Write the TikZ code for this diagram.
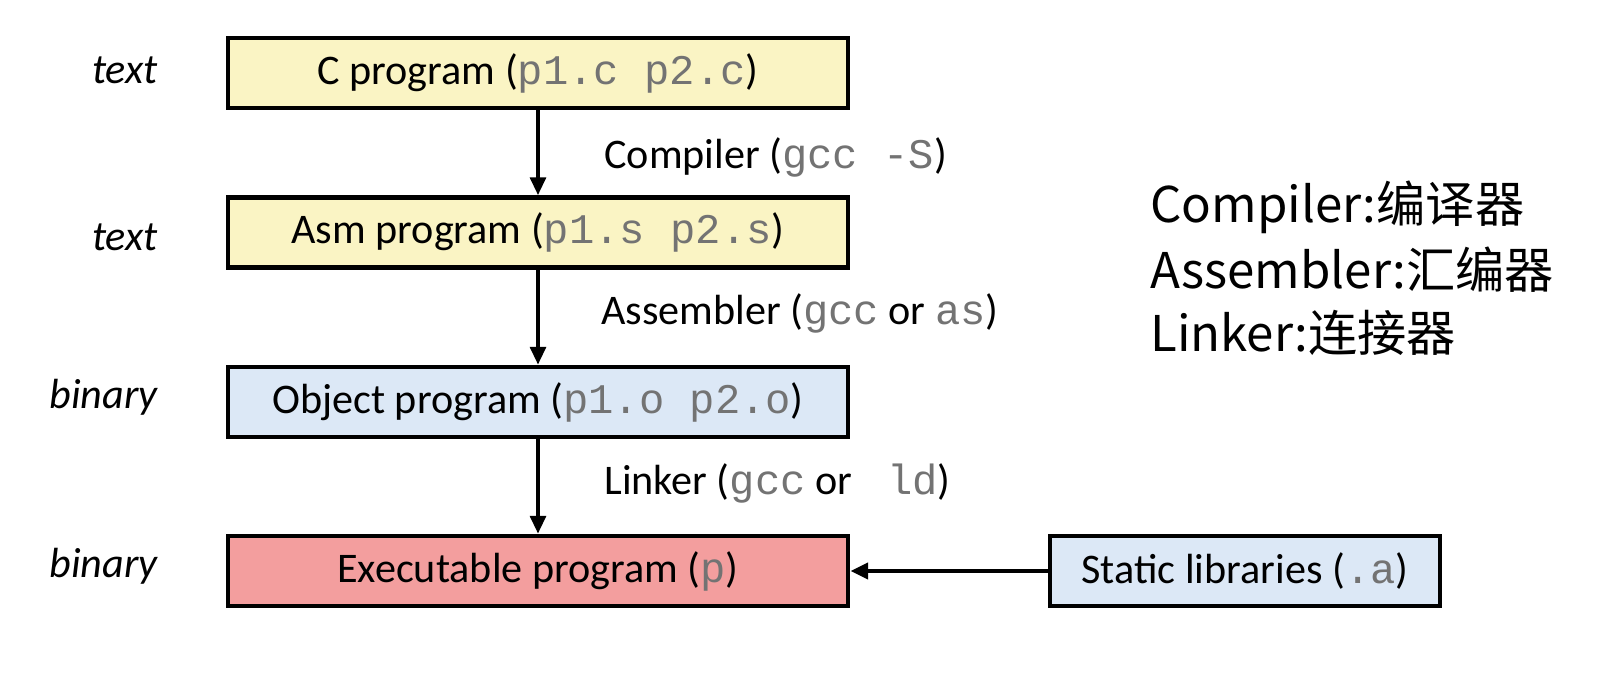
\documentclass[tikz,border=0pt]{standalone}
\usepackage{fontspec}
\setmainfont{Carlito}
\setmonofont{Liberation Mono}
\newfontfamily\cjk{Noto Sans CJK SC}
\usepackage{tikz}
\usetikzlibrary{positioning}
\usetikzlibrary{arrows.meta}

\definecolor{srcyellow}{RGB}{250,244,196}
\definecolor{objblue}{RGB}{220,232,246}
\definecolor{exered}{RGB}{243,158,158}
\definecolor{codegray}{RGB}{115,115,115}

\newcommand{\code}[1]{{\ttfamily\color{codegray}#1}}

\tikzset{
    stagebox/.style={draw=black, line width=2.8pt, minimum width=12.4cm,
        minimum height=1.4cm, inner sep=0pt, font=\fontsize{24}{28}\selectfont},
    kindlabel/.style={anchor=east, inner sep=0pt, font=\fontsize{24}{28}\selectfont\itshape},
    toollabel/.style={anchor=west, inner sep=0pt, font=\fontsize{24}{28}\selectfont},
    notelabel/.style={anchor=west, inner sep=0pt, font=\fontsize{28}{33}\selectfont\cjk},
    flow/.style={-{Triangle[length=10pt,width=9pt]}, line width=1.8pt}
}

\begin{document}
\begin{tikzpicture}
    \useasboundingbox[fill=white] (0,0) rectangle (32.44,-13.44);

    \node[stagebox, fill=srcyellow] (cprog) at (10.76, -1.46) {C program (\code{p1.c p2.c})};
    \node[stagebox, fill=srcyellow] (asmprog) at (10.76, -4.65) {Asm program (\code{p1.s p2.s})};
    \node[stagebox, fill=objblue] (objprog) at (10.76, -8.04) {Object program (\code{p1.o p2.o})};
    \node[stagebox, fill=exered] (exeprog) at (10.76, -11.42) {Executable program (\code{p})};
    \node[stagebox, fill=objblue, minimum width=7.8cm] (statlib) at (24.9, -11.42) {Static libraries (\code{.a})};

    \node[kindlabel] (k1) at (3.16, -1.40) {text};
    \node[kindlabel] (k2) at (3.16, -4.74) {text};
    \node[kindlabel] (k3) at (3.16, -7.94) {binary};
    \node[kindlabel] (k4) at (3.16, -11.32) {binary};

    \path[flow]
        (cprog) edge (asmprog)
        (asmprog) edge (objprog)
        (objprog) edge (exeprog);
    \draw[flow, line width=2.6pt] (statlib) -- (exeprog);

    \node[toollabel] (t1) at (12.08, -3.14) {Compiler (\code{gcc -S})};
    \node[toollabel] (t2) at (12.02, -6.26) {Assembler (\code{gcc} or \code{as})};
    \node[toollabel] (t3) at (12.08, -9.66) {Linker (\code{gcc} or \code{\ ld})};

    \node[notelabel] (n1) at (23.0, -4.14) {Compiler:编译器};
    \node[notelabel] (n2) at (23.0, -5.40) {Assembler:汇编器};
    \node[notelabel] (n3) at (23.0, -6.66) {Linker:连接器};
\end{tikzpicture}
\end{document}
